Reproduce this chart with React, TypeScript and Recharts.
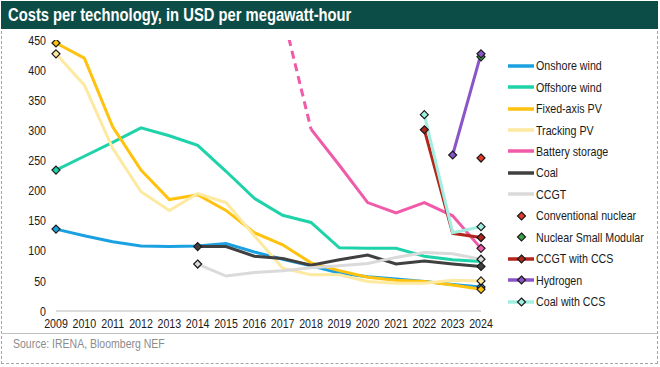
import { LineChart, Line, XAxis, YAxis, Legend } from 'recharts';

const years = ['2009', '2010', '2011', '2012', '2013', '2014', '2015', '2016', '2017', '2018', '2019', '2020', '2021', '2022', '2023', '2024'];

const onshoreWind = [136, 125, 115, 108, 107, 108, 112, 98, 86, 75, 63, 57, 53, 49, 44, 40];
const offshoreWind = [234, 257, 280, 304, 291, 275, 232, 187, 159, 147, 105, 104, 104, 91, 85, 82];
const fixedAxisPV = [445, 420, 306, 234, 185, 193, 167, 130, 110, 80, 67, 56, 51, 49, 43, 36];
const trackingPV = [427, 375, 270, 198, 167, 195, 180, 125, 71, 60, 60, 49, 46, 46, 51, 50];
const batteryStorage = [null, null, null, null, null, null, null, null, null, 302, 242, 180, 163, 180, 158, 104];
const batteryEarly = [null, null, null, null, null, null, null, null, 495, 302, null, null, null, null, null, null];
const coal = [null, null, null, null, null, 107, 107, 91, 87, 76, 85, 93, 78, 83, 78, 74];
const ccgt = [null, null, null, null, null, 78, 58, 64, 67, 72, 75, 79, 89, 97, 95, 86];
const conventionalNuclear = [null, null, null, null, null, null, null, null, null, null, null, null, null, null, null, 254];
const nuclearSMR = [null, null, null, null, null, null, null, null, null, null, null, null, null, null, null, 422];
const ccgtWithCCS = [null, null, null, null, null, null, null, null, null, null, null, null, null, 301, 129, 122];
const hydrogen = [null, null, null, null, null, null, null, null, null, null, null, null, null, null, 259, 427];
const coalWithCCS = [null, null, null, null, null, null, null, null, null, null, null, null, null, 326, 130, 140];

const yTicks = [0, 50, 100, 150, 200, 250, 300, 350, 400, 450];

// ends: which end points get a diamond
const series = [
  { key: 'onshore', name: 'Onshore wind', values: onshoreWind, color: '#1ba1e2', kind: 'line', ends: 'both' },
  { key: 'offshore', name: 'Offshore wind', values: offshoreWind, color: '#1ed2a9', kind: 'line', ends: 'first' },
  { key: 'fixed', name: 'Fixed-axis PV', values: fixedAxisPV, color: '#ffc20f', kind: 'line', ends: 'both' },
  { key: 'tracking', name: 'Tracking PV', values: trackingPV, color: '#fde9a0', kind: 'line', ends: 'both' },
  { key: 'battery', name: 'Battery storage', values: batteryStorage, color: '#f15aa8', kind: 'line', ends: 'last' },
  { key: 'coal', name: 'Coal', values: coal, color: '#404040', kind: 'line', ends: 'both' },
  { key: 'ccgt', name: 'CCGT', values: ccgt, color: '#dadada', kind: 'line', ends: 'both' },
  { key: 'nuclear', name: 'Conventional nuclear', values: conventionalNuclear, color: '#e8392b', kind: 'marker', ends: 'both' },
  { key: 'smr', name: 'Nuclear Small Modular', values: nuclearSMR, color: '#3aa648', kind: 'marker', ends: 'both' },
  { key: 'ccgtccs', name: 'CCGT with CCS', values: ccgtWithCCS, color: '#b3261e', kind: 'both', ends: 'both' },
  { key: 'hydrogen', name: 'Hydrogen', values: hydrogen, color: '#8a55c6', kind: 'both', ends: 'both' },
  { key: 'coalccs', name: 'Coal with CCS', values: coalWithCCS, color: '#a2efe2', kind: 'both', ends: 'both' },
];

const data = years.map((year, i) => {
  const row: Record<string, any> = { year, batteryEarly: batteryEarly[i] };
  series.forEach(s => { row[s.key] = s.values[i]; });
  return row;
});

const font = "'Liberation Sans', Arial, sans-serif";
const squeeze = 0.82; // the original uses a condensed face

function diamond(cx: number, cy: number, fill: string, key?: string) {
  const r = 4;
  return (
    <path
      key={key}
      d={`M${cx},${cy - r}L${cx + r},${cy}L${cx},${cy + r}L${cx - r},${cy}Z`}
      fill={fill}
      stroke="#1a1a1a"
      strokeWidth={1.2}
    />
  );
}

// diamonds only on the first and/or last point of a series
function endDots(values: (number | null)[], color: string, ends: string) {
  const defined = values.map((v, i) => (v == null ? -1 : i)).filter(i => i >= 0);
  const first = ends === 'last' ? -1 : defined[0];
  const last = ends === 'first' ? -1 : defined[defined.length - 1];
  return (props: any) => {
    const { cx, cy, index } = props;
    if (cx == null || cy == null || (index !== first && index !== last)) {
      return <g key={`d-${index}`} />;
    }
    return diamond(cx, cy, color, `d-${index}`);
  };
}

function XTick(props: any) {
  const { x, y, payload } = props;
  return (
    <text transform={`translate(${x},${y}) scale(${squeeze},1)`} textAnchor="middle" dy="0.71em" fontFamily={font} fontSize={13} fill="#1a1a1a">
      {payload.value}
    </text>
  );
}

function YTick(props: any) {
  const { x, y, payload } = props;
  return (
    <text transform={`translate(${x},${y}) scale(${squeeze},1)`} textAnchor="end" dy="0.355em" fontFamily={font} fontSize={13} fill="#1a1a1a">
      {payload.value}
    </text>
  );
}

function LegendContent() {
  return (
    <div style={{ fontFamily: font, fontSize: 13, color: '#1a1a1a', whiteSpace: 'nowrap' }}>
      {series.map(s => (
        <div key={s.key} style={{ height: 21.45, display: 'flex', alignItems: 'center' }}>
          <svg width={36} height={12} style={{ flexShrink: 0 }}>
            {s.kind !== 'marker' && <line x1={8} x2={34} y1={6} y2={6} stroke={s.color} strokeWidth={3.5} />}
            {s.kind !== 'line' && diamond(21.5, 6, s.color)}
          </svg>
          <span style={{ display: 'inline-block', transform: `scaleX(${squeeze})`, transformOrigin: 'left center' }}>{s.name}</span>
        </div>
      ))}
    </div>
  );
}

export default function App() {
  return (
    <div style={{ position: 'absolute', left: 0, top: 0, width: 660, height: 367, background: '#fff', overflow: 'hidden' }}>
      <div style={{ position: 'absolute', left: 1, top: 1, width: 657, height: 363, border: '1px dashed #a6a6a6', boxSizing: 'border-box' }} />
      <div style={{ position: 'absolute', left: 1, top: 1, width: 657, height: 28, background: '#0d4d48' }} />
      <div
        style={{
          position: 'absolute', left: 8, top: 1, height: 28, lineHeight: '28px', whiteSpace: 'nowrap',
          color: '#fff', fontFamily: font, fontWeight: 'bold', fontSize: 18,
          transform: `scaleX(${squeeze})`, transformOrigin: 'left center',
        }}
      >
        Costs per technology, in USD per megawatt-hour
      </div>
      <div style={{ position: 'absolute', left: 1, top: 333, width: 656, height: 1, background: '#bfbfbf' }} />
      <div
        style={{
          position: 'absolute', left: 13, top: 337, fontFamily: font, fontSize: 12.5, color: '#8c8c8c', whiteSpace: 'nowrap',
          transform: 'scaleX(0.84)', transformOrigin: 'left center',
        }}
      >
        Source: IRENA, Bloomberg NEF
      </div>
      <div style={{ position: 'absolute', left: 0, top: 0 }}>
        <LineChart width={660} height={336} data={data} margin={{ top: 40, right: 179, left: 0, bottom: 5 }}>
          <XAxis
            dataKey="year"
            interval={0}
            height={20}
            tickLine={false}
            tickSize={4}
            tickMargin={4}
            axisLine={{ stroke: '#d0d0d0', strokeWidth: 1.5 }}
            tick={<XTick />}
          />
          <YAxis
            width={56}
            domain={[0, 450]}
            ticks={yTicks}
            allowDataOverflow
            axisLine={false}
            tickLine={false}
            tickSize={4}
            tickMargin={6}
            tick={<YTick />}
          />
          <Legend
            layout="vertical"
            align="center"
            verticalAlign="middle"
            wrapperStyle={{ left: 500, top: 55, width: 160 }}
            content={LegendContent}
          />
          <Line
            dataKey="batteryEarly"
            stroke="#f15aa8"
            strokeWidth={3}
            strokeDasharray="8 5"
            dot={false}
            activeDot={false}
            isAnimationActive={false}
            legendType="none"
          />
          {series.map(s => (
            <Line
              key={s.key}
              dataKey={s.key}
              name={s.name}
              stroke={s.kind === 'marker' ? 'none' : s.color}
              strokeWidth={s.kind === 'marker' ? 0 : 3}
              dot={endDots(s.values, s.color, s.ends)}
              activeDot={false}
              isAnimationActive={false}
            />
          ))}
        </LineChart>
      </div>
    </div>
  );
}
